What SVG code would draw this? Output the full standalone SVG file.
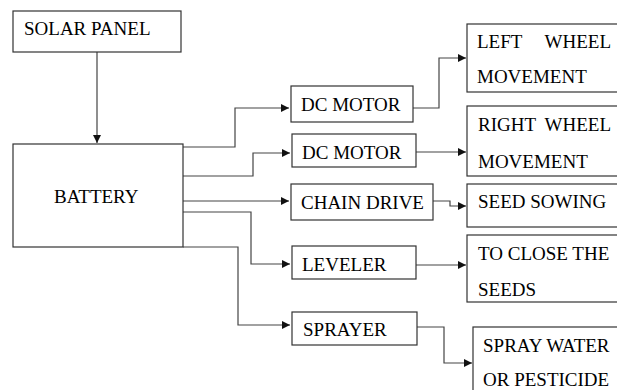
<svg xmlns="http://www.w3.org/2000/svg" width="617" height="390" viewBox="0 0 617 390">
<style>
.box{fill:#fff;stroke:#333;stroke-width:1.2}
.t{font-family:"Liberation Serif","Times New Roman",serif;font-size:19px;fill:#000}
.c{fill:none;stroke:#444;stroke-width:1.2}
</style>
<defs>
<marker id="ah" markerUnits="userSpaceOnUse" markerWidth="9" markerHeight="9" refX="8" refY="4" orient="auto">
<path d="M0,0 L8,4 L0,8 z" fill="#111"/>
</marker>
</defs>
<rect width="617" height="390" fill="#fff"/>
<g id="connectors">
<path class="c" marker-end="url(#ah)" d="M97,52 V143"/>
<path class="c" marker-end="url(#ah)" d="M183,147 H235 V108 H289"/>
<path class="c" marker-end="url(#ah)" d="M183,176 H253 V153 H290"/>
<path class="c" marker-end="url(#ah)" d="M183,201 H289"/>
<path class="c" marker-end="url(#ah)" d="M183,212 H251 V264 H290"/>
<path class="c" marker-end="url(#ah)" d="M183,247 H238 V325 H290"/>
<path class="c" marker-end="url(#ah)" d="M413,108 H439 V58 H466"/>
<path class="c" marker-end="url(#ah)" d="M416,152 H466"/>
<path class="c" marker-end="url(#ah)" d="M433,201 H450 V206 H466"/>
<path class="c" marker-end="url(#ah)" d="M416,265 H466"/>
<path class="c" marker-end="url(#ah)" d="M417,327 H444 V363 H472"/>
</g>
<g id="solar-panel"><rect class="box" x="13" y="11" width="168" height="41"/><text class="t" x="24" y="35">SOLAR PANEL</text></g>
<g id="battery"><rect class="box" x="13" y="144" width="170" height="103"/><text class="t" x="54" y="203">BATTERY</text></g>
<g id="dc-motor-1"><rect class="box" x="291" y="86" width="122" height="36"/><text class="t" x="301" y="111">DC MOTOR</text></g>
<g id="dc-motor-2"><rect class="box" x="292" y="134" width="124" height="33"/><text class="t" x="302" y="159">DC MOTOR</text></g>
<g id="chain-drive"><rect class="box" x="291" y="184" width="142" height="36"/><text class="t" x="301" y="209">CHAIN DRIVE</text></g>
<g id="leveler"><rect class="box" x="292" y="246" width="124" height="33"/><text class="t" x="302" y="271">LEVELER</text></g>
<g id="sprayer"><rect class="box" x="292" y="312" width="125" height="33"/><text class="t" x="303" y="336">SPRAYER</text></g>
<g id="left-wheel"><rect class="box" x="467" y="24" width="160" height="68"/><text class="t" x="477" y="48">LEFT</text><text class="t" x="611" y="48" text-anchor="end">WHEEL</text><text class="t" x="477" y="83">MOVEMENT</text></g>
<g id="right-wheel"><rect class="box" x="467" y="106" width="160" height="70"/><text class="t" x="478" y="131">RIGHT</text><text class="t" x="611" y="131" text-anchor="end">WHEEL</text><text class="t" x="478" y="168">MOVEMENT</text></g>
<g id="seed-sowing"><rect class="box" x="467" y="184" width="160" height="43"/><text class="t" x="478" y="208">SEED SOWING</text></g>
<g id="close-seeds"><rect class="box" x="467" y="235" width="160" height="67"/><text class="t" x="478" y="260">TO CLOSE THE</text><text class="t" x="478" y="296">SEEDS</text></g>
<g id="spray-water"><rect class="box" x="473" y="327" width="160" height="80"/><text class="t" x="483" y="352">SPRAY WATER</text><text class="t" x="483" y="386">OR PESTICIDE</text></g>
</svg>
